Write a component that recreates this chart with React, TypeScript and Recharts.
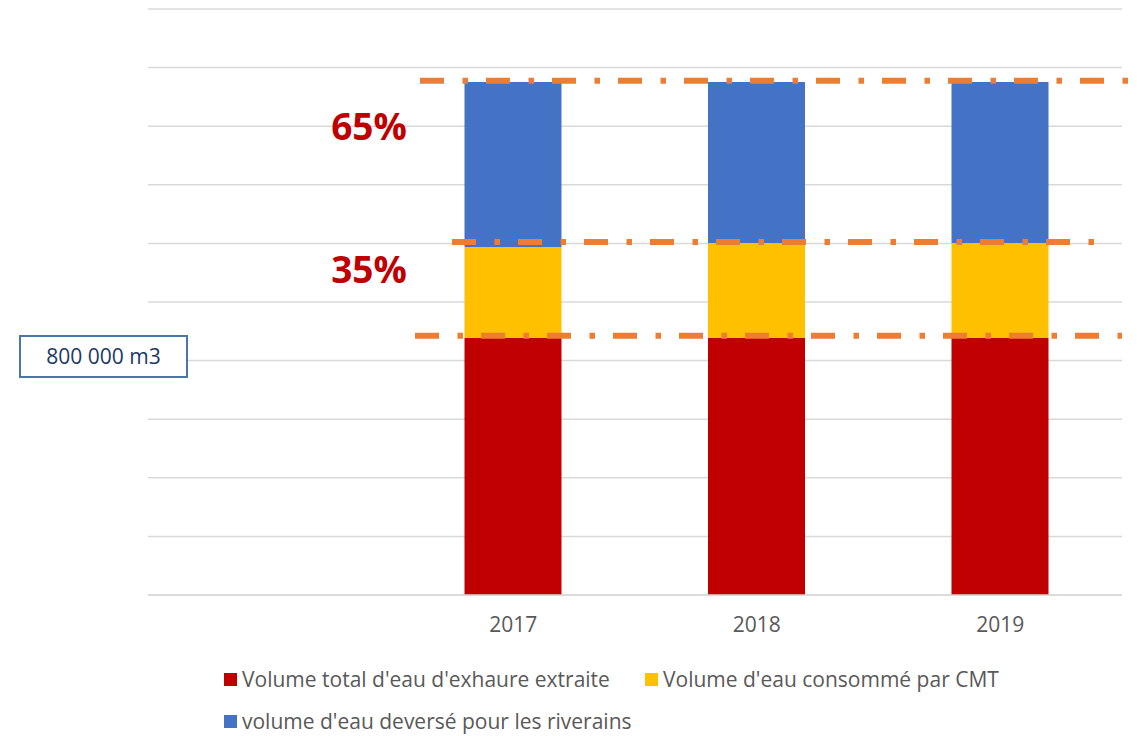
import React from 'react';
import { BarChart, Bar, XAxis, YAxis, CartesianGrid, ReferenceLine } from 'recharts';

// categories (first slot is left empty, like in the source sheet)
const years = ['', '2017', '2018', '2019'];

// volumes in m3
const extracted = [null, 877000, 877000, 877000];
const consumed = [null, 311000, 324000, 324000];
const released = [null, 563000, 550000, 550000];

const yTicks = [0, 200000, 400000, 600000, 800000, 1000000, 1200000, 1400000, 1600000, 1800000, 2000000];

const seriesNames = [
  "Volume total d'eau d'exhaure extraite",
  "Volume d'eau consommé par CMT",
  "volume d'eau deversé pour les riverains",
];
const seriesColors = ['#C00000', '#FFC000', '#4472C4'];

// levels of the dash-dot markers
const markerLevels = [1755000, 1205000, 885000];
const shareLabels = ['65%', '35%'];

const data = years.map((year, i) => ({
  year,
  extracted: extracted[i],
  consumed: consumed[i],
  released: released[i],
}));

const FONT = "'Open Sans', sans-serif";

// start / end trims of each marker line relative to the plot area
const markerTrim = [
  [272, 8],
  [304, -27],
  [267, 0],
];

const dashLine = (trim: number[]) => (props: any) => (
  <line
    x1={props.x1 + trim[0]}
    y1={props.y1}
    x2={props.x2 + trim[1]}
    y2={props.y2}
    stroke="#ED7D31"
    strokeWidth={6}
    strokeDasharray="24 18.5 5.5 18"
  />
);

export default function App() {
  return (
    <div style={{ position: 'absolute', left: 0, top: 0, width: 1137, height: 736, background: '#fff', fontFamily: FONT }}>
      <BarChart
        width={1137}
        height={736}
        data={data}
        margin={{ top: 9, right: 15, left: 148, bottom: 111 }}
        barCategoryGap={0}
      >
        <CartesianGrid horizontal vertical={false} stroke="#D9D9D9" strokeWidth={1.5} />
        <XAxis
          dataKey="year"
          height={30}
          axisLine={{ stroke: '#D9D9D9', strokeWidth: 1.5 }}
          tickLine={false}
          tickMargin={16}
          tick={{ fill: '#595959', fontSize: 21, fontFamily: FONT }}
        />
        <YAxis hide domain={[0, 2000000]} ticks={yTicks} />
        <Bar dataKey="extracted" stackId="a" fill={seriesColors[0]} barSize={97} isAnimationActive={false} />
        <Bar dataKey="consumed" stackId="a" fill={seriesColors[1]} barSize={97} isAnimationActive={false} />
        <Bar dataKey="released" stackId="a" fill={seriesColors[2]} barSize={97} isAnimationActive={false} />
        {markerLevels.map((lvl, i) => (
          <ReferenceLine key={i} y={lvl} ifOverflow="visible" shape={dashLine(markerTrim[i])} />
        ))}
      </BarChart>

      {shareLabels.map((s, i) => (
        <div
          key={s}
          style={{
            position: 'absolute',
            left: 330,
            top: i === 0 ? 101 : 244,
            width: 78,
            textAlign: 'center',
            color: '#C00000',
            fontWeight: 700,
            fontSize: 37,
            lineHeight: '50px',
          }}
        >
          {s}
        </div>
      ))}

      <div
        style={{
          position: 'absolute',
          left: 19,
          top: 335,
          width: 165,
          height: 39,
          border: '2px solid #4A76A8',
          background: '#fff',
          color: '#203864',
          fontSize: 21,
          lineHeight: '39px',
          textAlign: 'center',
        }}
      >
        800 000 m3
      </div>

      {seriesNames.map((name, i) => {
        const pos = [
          [224, 665],
          [645, 665],
          [224, 707],
        ][i];
        return (
          <div
            key={name}
            style={{
              position: 'absolute',
              left: pos[0],
              top: pos[1],
              height: 28,
              display: 'flex',
              alignItems: 'center',
              color: '#595959',
              fontSize: 21,
              whiteSpace: 'nowrap',
            }}
          >
            <span style={{ width: 13, height: 13, background: seriesColors[i], marginRight: 5, display: 'inline-block' }} />
            {name}
          </div>
        );
      })}
    </div>
  );
}
